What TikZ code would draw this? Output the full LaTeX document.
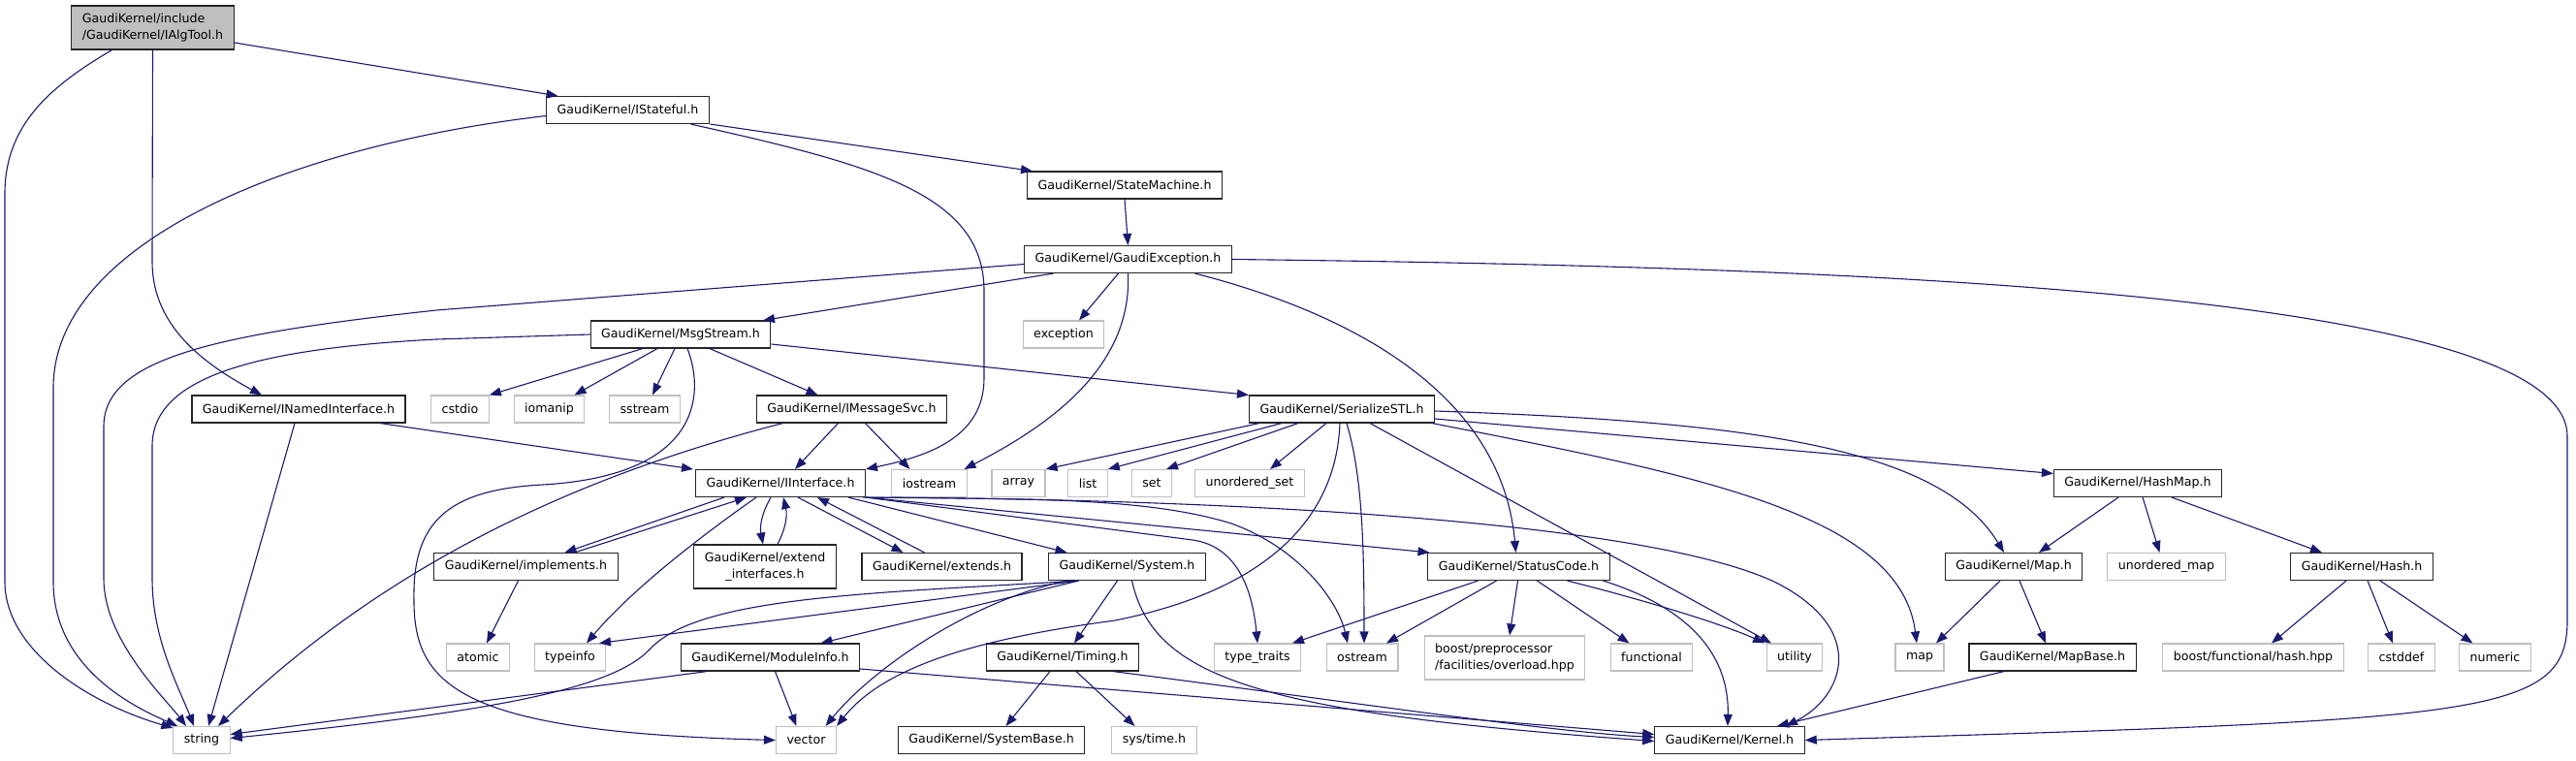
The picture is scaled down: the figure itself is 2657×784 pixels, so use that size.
\documentclass[tikz,border=0pt]{standalone}
\usepackage{fontspec}
\setmainfont{DejaVu Sans}
\usetikzlibrary{arrows.meta}
\definecolor{edgeblue}{HTML}{191970}
\definecolor{sysgray}{HTML}{BFBFBF}

\begin{document}
\begin{tikzpicture}[x=1pt,y=-1pt,
    every node/.style={font=\fontsize{12.6}{16.7}\selectfont, inner xsep=11pt, inner ysep=0pt,
      minimum height=28pt, line width=1.1pt},
    hdr/.style={draw=black!85, fill=white},
    sys/.style={draw=sysgray, fill=white},
    top/.style={draw=black!85, fill=sysgray, align=left, minimum height=45pt},
    inc/.style={color=edgeblue, line width=1.1pt, -{Triangle[length=12pt,width=9pt]}}]
  \useasboundingbox (0,0) rectangle (2657,784);

  % headers, one row per rank
  \node[top] (root) at (157.5,28.5) {GaudiKernel/include\\/GaudiKernel/IAlgTool.h};
  \node[hdr] (stateful) at (647.5,113.5) {GaudiKernel/IStateful.h};
  \node[hdr] (statemachine) at (1160,191) {GaudiKernel/StateMachine.h};
  \node[hdr] (gexception) at (1163.5,267.5) {GaudiKernel/GaudiException.h};
  \node[hdr] (msgstream) at (702,345) {GaudiKernel/MsgStream.h};
  \node[sys] (exception) at (1097,345) {exception};
  \node[hdr] (namedif) at (308,422) {GaudiKernel/INamedInterface.h};
  \node[sys] (cstdio) at (474.5,422) {cstdio};
  \node[sys] (iomanip) at (566.5,422) {iomanip};
  \node[sys] (sstream) at (665,422) {sstream};
  \node[hdr] (msgsvc) at (878.5,422) {GaudiKernel/IMessageSvc.h};
  \node[hdr] (serialize) at (1384,422) {GaudiKernel/SerializeSTL.h};
  \node[hdr] (iface) at (805,498.5) {GaudiKernel/IInterface.h};
  \node[sys] (iostream) at (958.5,498.5) {iostream};
  \node[sys] (array) at (1050.5,498.5) {array};
  \node[sys] (list) at (1122,498.5) {list};
  \node[sys] (set) at (1188,498.5) {set};
  \node[sys] (uset) at (1289,498.5) {unordered\_set};
  \node[hdr] (hashmap) at (2205,498.5) {GaudiKernel/HashMap.h};
  \node[hdr] (implements) at (542.5,584.5) {GaudiKernel/implements.h};
  \node[hdr, align=center, minimum height=45pt] (extendif) at (789,584.5) {GaudiKernel/extend\\\_interfaces.h};
  \node[hdr] (extends) at (971.5,584.5) {GaudiKernel/extends.h};
  \node[hdr] (system) at (1162.5,584.5) {GaudiKernel/System.h};
  \node[hdr] (statuscode) at (1566.5,584.5) {GaudiKernel/StatusCode.h};
  \node[hdr] (gmap) at (2077,584.5) {GaudiKernel/Map.h};
  \node[sys] (umap) at (2234.5,584.5) {unordered\_map};
  \node[hdr] (hash) at (2436,584.5) {GaudiKernel/Hash.h};
  \node[sys] (atomic) at (493,678) {atomic};
  \node[sys] (typeinfo) at (588,678) {typeinfo};
  \node[hdr] (moduleinfo) at (794.5,678) {GaudiKernel/ModuleInfo.h};
  \node[hdr] (timing) at (1096,678) {GaudiKernel/Timing.h};
  \node[sys] (typetraits) at (1297,678) {type\_traits};
  \node[sys] (ostream) at (1405,678) {ostream};
  \node[sys, align=left, minimum height=45pt] (overload) at (1552,678.5) {boost/preprocessor\\/facilities/overload.hpp};
  \node[sys] (functional) at (1703.5,678) {functional};
  \node[sys] (utility) at (1851,678) {utility};
  \node[sys] (map) at (1980,678) {map};
  \node[hdr] (mapbase) at (2117,678) {GaudiKernel/MapBase.h};
  \node[sys] (boosthash) at (2324,678) {boost/functional/hash.hpp};
  \node[sys] (cstddef) at (2477,678) {cstddef};
  \node[sys] (numeric) at (2573.5,678) {numeric};
  \node[sys] (string) at (208,763.5) {string};
  \node[sys] (vector) at (831.5,763.5) {vector};
  \node[hdr] (systembase) at (1022.5,763.5) {GaudiKernel/SystemBase.h};
  \node[sys] (systime) at (1190.5,763.5) {sys/time.h};
  \node[hdr] (kernel) at (1784,763.5) {GaudiKernel/Kernel.h};

  % IAlgTool.h
  \draw[inc] ([yshift=-15.5]root.east) -- ([xshift=-72]stateful.north);
  \draw[inc] (root.south) -- (157,270) .. controls (157,330) and (200,370) .. ([xshift=-38]namedif.north);
  \draw[inc] ([xshift=-42]root.south) .. controls (50,90) and (5,130) .. (5,200) -- (5,600)
    .. controls (5,670) and (90,725) .. ([yshift=-2]string.north west);

  % IStateful.h
  \draw[inc] ([yshift=-6]stateful.west) .. controls (300,150) and (55,250) .. (55,400) -- (55,600)
    .. controls (55,690) and (140,730) .. ([xshift=-25]string.north);
  \draw[inc] ([xshift=85]stateful.south) -- ([xshift=-95]statemachine.north);
  \draw[inc] ([xshift=65]stateful.south) .. controls (900,170) and (1015,200) .. (1015,300) -- (1015,390)
    .. controls (1015,450) and (960,470) .. (iface.north east);

  \draw[inc] (statemachine.south) -- (gexception.north);

  % GaudiException.h
  \draw[inc] ([yshift=-5]gexception.west) -- (450,320) .. controls (220,345) and (107,370) .. (107,440) -- (107,597)
    .. controls (107,660) and (170,720) .. ([xshift=-16]string.north);
  \draw[inc] ([xshift=-77]gexception.south) -- ([xshift=85]msgstream.north);
  \draw[inc] ([xshift=-10]gexception.south) -- ([xshift=16]exception.north);
  \draw[inc] (gexception.south) .. controls (1168,380) and (1080,440) .. ([xshift=36]iostream.north);
  \draw[inc] ([xshift=69]gexception.south) .. controls (1420,330) and (1550,420) .. ([xshift=-3]statuscode.north);
  \draw[inc] (gexception.east) .. controls (1900,275) and (2648,300) .. (2648,450) -- (2648,640)
    .. controls (2648,740) and (2560,742) .. (kernel.east);

  % MsgStream.h
  \draw[inc] (msgstream.west) -- (450,350) .. controls (260,360) and (157,390) .. (157,460) -- (157,597)
    .. controls (157,660) and (185,710) .. ([xshift=-8]string.north);
  \draw[inc] ([xshift=-39]msgstream.south) -- (cstdio.north east);
  \draw[inc] ([xshift=-24]msgstream.south) -- ([xshift=26]iomanip.north);
  \draw[inc] ([xshift=-6]msgstream.south) -- ([xshift=8]sstream.north);
  \draw[inc] ([xshift=7]msgstream.south) .. controls (725,400) and (730,490) .. (560,500)
    .. controls (460,505) and (425,540) .. (427,620) .. controls (427,710) and (480,755) .. (vector.west);
  \draw[inc] ([xshift=30]msgstream.south) -- ([xshift=-35]msgsvc.north);
  \draw[inc] ([yshift=-10]msgstream.east) -- (serialize.north west);

  % INamedInterface.h
  \draw[inc] ([xshift=-4]namedif.south) -- ([xshift=7]string.north);
  \draw[inc] ([xshift=84]namedif.south) -- ([xshift=-90]iface.north);

  % IMessageSvc.h
  \draw[inc] ([xshift=-71]msgsvc.south) .. controls (600,490) and (400,580) .. ([xshift=17]string.north);
  \draw[inc] ([xshift=-14]msgsvc.south) -- ([xshift=15]iface.north);
  \draw[inc] ([xshift=14]msgsvc.south) -- ([xshift=-20]iostream.north);

  % SerializeSTL.h
  \draw[inc] ([xshift=-85]serialize.south) -- (array.north east);
  \draw[inc] ([xshift=-62]serialize.south) -- (list.north east);
  \draw[inc] ([xshift=-45]serialize.south) -- ([xshift=15]set.north);
  \draw[inc] ([xshift=-16]serialize.south) -- ([xshift=21]uset.north);
  \draw[inc] ([xshift=-2]serialize.south) .. controls (1378,540) and (1300,610) .. (1150,640)
    .. controls (1000,660) and (910,690) .. (vector.north east);
  \draw[inc] ([xshift=5]serialize.south) .. controls (1405,490) and (1407,560) .. ([xshift=2]ostream.north);
  \draw[inc] ([xshift=29]serialize.south) -- ([xshift=-24]utility.north);
  \draw[inc] ([xshift=93]serialize.south) .. controls (1750,490) and (1960,530) .. ([xshift=-3]map.north);
  \draw[inc] ([yshift=-2]serialize.east) .. controls (1800,435) and (2000,460) .. ([xshift=-10]gmap.north);
  \draw[inc] ([yshift=-10]serialize.east) -- ([yshift=10]hashmap.west);

  % IInterface.h
  \draw[inc] ([xshift=-58]iface.south) -- ([xshift=40]implements.north);
  \draw[inc] ([xshift=50]implements.north) -- ([xshift=-35]iface.south);
  \draw[inc] ([xshift=-10]iface.south) to[bend right=20] ([xshift=-2]extendif.north);
  \draw[inc] ([xshift=13]extendif.north) to[bend right=20] ([xshift=3]iface.south);
  \draw[inc] ([xshift=18]iface.south) -- ([xshift=-40]extends.north);
  \draw[inc] ([xshift=-18]extends.north) -- ([xshift=38]iface.south);
  \draw[inc] ([xshift=-25]iface.south) .. controls (720,555) and (650,610) .. ([xshift=17]typeinfo.north);
  \draw[inc] ([xshift=70]iface.south) -- ([xshift=-62]system.north);
  \draw[inc] (iface.south east) -- ([xshift=-92]statuscode.north);
  \draw[inc] (iface.south east) -- (1230,557) .. controls (1265,562) and (1290,590) .. (typetraits.north);
  \draw[inc] ([xshift=85]iface.south) .. controls (1050,515) and (1180,512) .. (1270,540)
    .. controls (1340,565) and (1380,620) .. ([xshift=-15]ostream.north);
  \draw[inc] ([xshift=88]iface.south) .. controls (1300,515) and (1700,540) .. (1830,600)
    .. controls (1930,650) and (1900,720) .. ([xshift=58]kernel.north);

  \draw[inc] ([xshift=-8]implements.south) -- ([xshift=9]atomic.north);

  % System.h
  \draw[inc] ([xshift=-50]system.south) -- ([xshift=30]typeinfo.north);
  \draw[inc] ([xshift=-50]system.south) .. controls (900,612) and (720,615) .. (670,670)
    .. controls (630,712) and (500,735) .. ([yshift=2]string.east);
  \draw[inc] ([xshift=-50]system.south) -- ([xshift=52]moduleinfo.north);
  \draw[inc] ([xshift=-62]system.south) .. controls (1000,620) and (900,690) .. ([xshift=20]vector.north);
  \draw[inc] ([xshift=-10]system.south) -- ([xshift=12]timing.north);
  \draw[inc] ([xshift=5]system.south) .. controls (1190,700) and (1300,735) .. ([yshift=-1]kernel.west);

  % ModuleInfo.h, Timing.h
  \draw[inc] ([xshift=-65]moduleinfo.south) -- ([yshift=6]string.east);
  \draw[inc] ([xshift=5]moduleinfo.south) -- ([xshift=-10]vector.north);
  \draw[inc] ([yshift=-12]moduleinfo.east) -- ([yshift=6]kernel.west);
  \draw[inc] ([xshift=-13]timing.south) -- ([xshift=15]systembase.north);
  \draw[inc] ([xshift=14]timing.south) -- ([xshift=-20]systime.north);
  \draw[inc] ([xshift=52]timing.south) .. controls (1400,725) and (1600,755) .. ([yshift=3]kernel.west);

  % StatusCode.h
  \draw[inc] ([xshift=-42]statuscode.south) -- ([xshift=36]typetraits.north);
  \draw[inc] ([xshift=-23]statuscode.south) -- ([xshift=25]ostream.north);
  \draw[inc] ([xshift=-1]statuscode.south) -- ([xshift=5]overload.north);
  \draw[inc] ([xshift=19]statuscode.south) -- ([xshift=-23]functional.north);
  \draw[inc] ([xshift=50]statuscode.south) .. controls (1700,620) and (1780,645) .. ([xshift=-31]utility.north);
  \draw[inc] ([xshift=87]statuscode.south) .. controls (1720,620) and (1784,660) .. ([xshift=-2]kernel.north);

  % HashMap.h, Hash.h, Map.h
  \draw[inc] ([xshift=-20]hashmap.south) -- ([xshift=26]gmap.north);
  \draw[inc] ([xshift=5]hashmap.south) -- ([xshift=-7]umap.north);
  \draw[inc] ([xshift=35]hashmap.south) -- ([xshift=-41]hash.north);
  \draw[inc] ([xshift=-16]hash.south) -- ([xshift=19]boosthash.north);
  \draw[inc] ([xshift=6]hash.south) -- ([xshift=-9]cstddef.north);
  \draw[inc] ([xshift=19]hash.south) -- ([xshift=-23]numeric.north);
  \draw[inc] ([xshift=-14]gmap.south) -- ([xshift=17]map.north);
  \draw[inc] ([xshift=6]gmap.south) -- ([xshift=-7]mapbase.north);
  \draw[inc] ([xshift=-50]mapbase.south) -- ([xshift=49]kernel.north);
\end{tikzpicture}
\end{document}
